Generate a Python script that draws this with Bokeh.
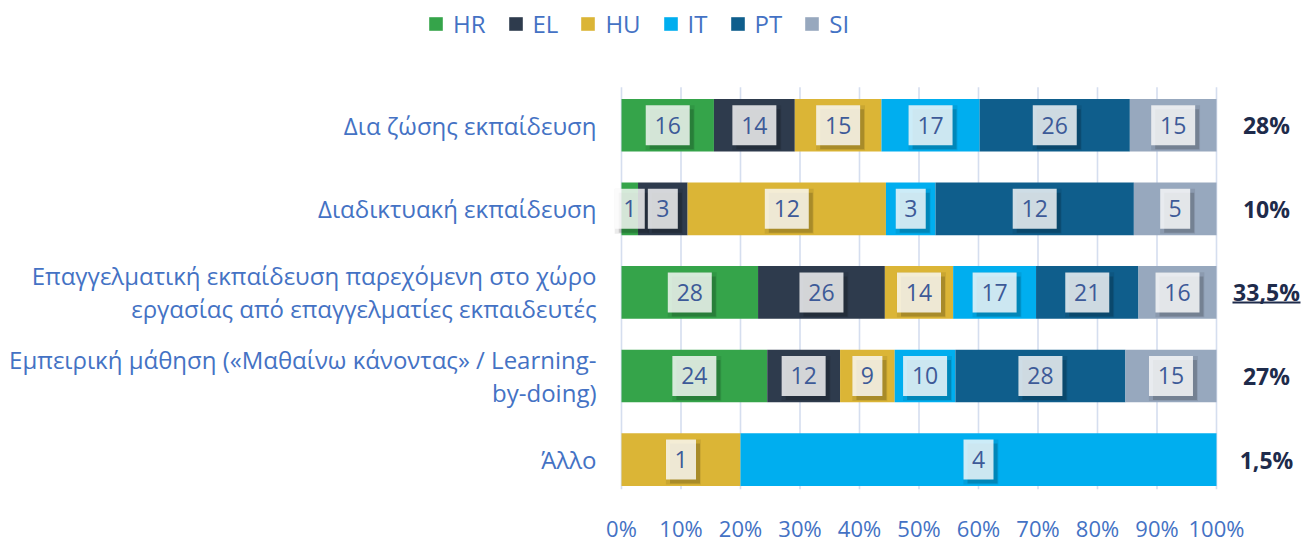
from bokeh.plotting import figure
from bokeh.models import ColumnDataSource, Range1d, FixedTicker, Legend, LegendItem
from bokeh.core.properties import value
from bokeh.embed import file_html
from bokeh.resources import INLINE

# ---------------- data ----------------
categories = [
    "Δια ζώσης εκπαίδευση",
    "Διαδικτυακή εκπαίδευση",
    "Επαγγελματική εκπαίδευση παρεχόμενη στο χώρο\nεργασίας από επαγγελματίες εκπαιδευτές",
    "Εμπειρική μάθηση («Μαθαίνω κάνοντας» / Learning-\nby-doing)",
    "Άλλο",
]
countries = ["HR", "EL", "HU", "IT", "PT", "SI"]
HR = [16, 1, 28, 24, 0]
EL = [14, 3, 26, 12, 0]
HU = [15, 12, 14, 9, 1]
IT = [17, 3, 17, 10, 4]
PT = [26, 12, 21, 28, 0]
SI = [15, 5, 16, 15, 0]
totals = ["28%", "10%", "33,5%", "27%", "1,5%"]
underlined = [False, False, True, False, False]
x_ticks = [0, 10, 20, 30, 40, 50, 60, 70, 80, 90, 100]
x_tick_labels = ["0%", "10%", "20%", "30%", "40%", "50%", "60%", "70%", "80%", "90%", "100%"]

colors = ["#35a44a", "#2e3b4d", "#dbb536", "#00aeef", "#0f5e8c", "#97a8be"]
TEXT_BLUE = "#4472c4"
LABEL_BLUE = "#3d5a98"
NAVY = "#1e2b4b"
GRID = "#d5deef"
FONT = "Open Sans"

# ---------------- layout constants ----------------
W, H = 1302, 545
FRAME_H = 490
X0_PX, X100_PX = 621, 1216
ROW_PX = 83.75
TOP_ROW_PX = 125
GRID_TOP_PX = 87
LEGEND_BOTTOM_PX = 41

px_x = (X100_PX - X0_PX) / 100.0
x_start = -X0_PX / px_x
x_end = 100 + (W - X100_PX) / px_x

n = len(categories)
ys = [n - 1 - i for i in range(n)]
y_end = (n - 1) + TOP_ROW_PX / ROW_PX
y_start = y_end - FRAME_H / ROW_PX
grid_top = y_end - GRID_TOP_PX / ROW_PX

series = [HR, EL, HU, IT, PT, SI]
row_totals = [sum(s[i] for s in series) for i in range(n)]

data = {"y": ys}
for c, s in zip(countries, series):
    data[c] = [v / t * 100.0 for v, t in zip(s, row_totals)]
src = ColumnDataSource(data)

p = figure(width=W, height=H,
           x_range=Range1d(x_start, x_end), y_range=Range1d(y_start, y_end),
           output_backend="svg", toolbar_location=None, y_axis_location=None,
           min_border_left=0, min_border_right=0, min_border_top=0,
           min_border_bottom=H - FRAME_H)
p.outline_line_color = None
p.grid.visible = False
p.background_fill_color = "white"

# gridlines
p.segment(x0=x_ticks, x1=x_ticks, y0=[y_start] * len(x_ticks), y1=[grid_top] * len(x_ticks),
          line_color=GRID, line_width=1.6)

# bars
renderers = p.hbar_stack(countries, y="y", height=0.63, color=colors, source=src, line_color=None)

# value labels
lx, ly, lt, lw = [], [], [], []
for i in range(n):
    cum = 0.0
    for c, s in zip(countries, series):
        pct = data[c][i]
        if s[i] > 0:
            lx.append(cum + pct / 2)
            ly.append(ys[i])
            lt.append(str(s[i]))
            lw.append(30 if len(str(s[i])) == 1 else 44)
        cum += pct

shadow_dx = 4 / px_x
shadow_dy = 4 / ROW_PX
p.rect(x=[v + shadow_dx * 0.6 for v in lx], y=[v - shadow_dy * 0.6 for v in ly],
       width=[w + 5 for w in lw], height=45, width_units="screen", height_units="screen",
       fill_color="black", fill_alpha=0.08, line_color=None)
p.rect(x=[v + shadow_dx for v in lx], y=[v - shadow_dy for v in ly],
       width=lw, height=40, width_units="screen", height_units="screen",
       fill_color="black", fill_alpha=0.16, line_color=None)
p.rect(x=lx, y=ly, width=lw, height=40, width_units="screen", height_units="screen",
       fill_color="white", fill_alpha=0.8, line_color=None)
p.text(x=lx, y=ly, text=lt, text_align="center", text_baseline="middle",
       text_font=value(FONT), text_font_size="23px", text_color=LABEL_BLUE)

# category labels
p.text(x=[-4.2] * n, y=ys, text=categories, text_align="right", text_baseline="middle",
       text_font=value(FONT), text_font_size="24px", text_color=TEXT_BLUE, text_line_height=1.0)

# totals on the right
rx = 108.4
p.text(x=[rx] * n, y=ys, text=totals, text_align="center", text_baseline="middle",
       text_font=value(FONT), text_font_size="23px", text_font_style="bold", text_color=NAVY)
ul_y = [ys[i] - 10 / ROW_PX for i in range(n) if underlined[i]]
ul_half = 34 / px_x
p.segment(x0=[rx - ul_half] * len(ul_y), x1=[rx + ul_half] * len(ul_y), y0=ul_y, y1=ul_y,
          line_color=NAVY, line_width=2)

# x axis
ax = p.xaxis[0]
ax.ticker = FixedTicker(ticks=x_ticks)
ax.major_label_overrides = {t: l for t, l in zip(x_ticks, x_tick_labels)}
ax.axis_line_color = None
ax.major_tick_line_color = None
ax.minor_tick_line_color = None
ax.major_tick_out = 0
ax.major_tick_in = 0
ax.major_label_text_font = FONT
ax.major_label_text_font_size = "22px"
ax.major_label_text_color = TEXT_BLUE
ax.major_label_text_line_height = 0.9
ax.major_label_standoff = 23

# legend
items = [LegendItem(label=c, renderers=[r]) for c, r in zip(countries, renderers)]
legend = Legend(items=items, orientation="horizontal", location=(427, FRAME_H - LEGEND_BOTTOM_PX),
                glyph_width=17, glyph_height=17, label_standoff=9, spacing=21,
                padding=2, margin=0, label_text_font=FONT, label_text_font_size="24px",
                label_text_color=TEXT_BLUE, background_fill_alpha=0, border_line_color=None)
p.add_layout(legend)

open("out.html", "w").write(file_html(p, INLINE))
